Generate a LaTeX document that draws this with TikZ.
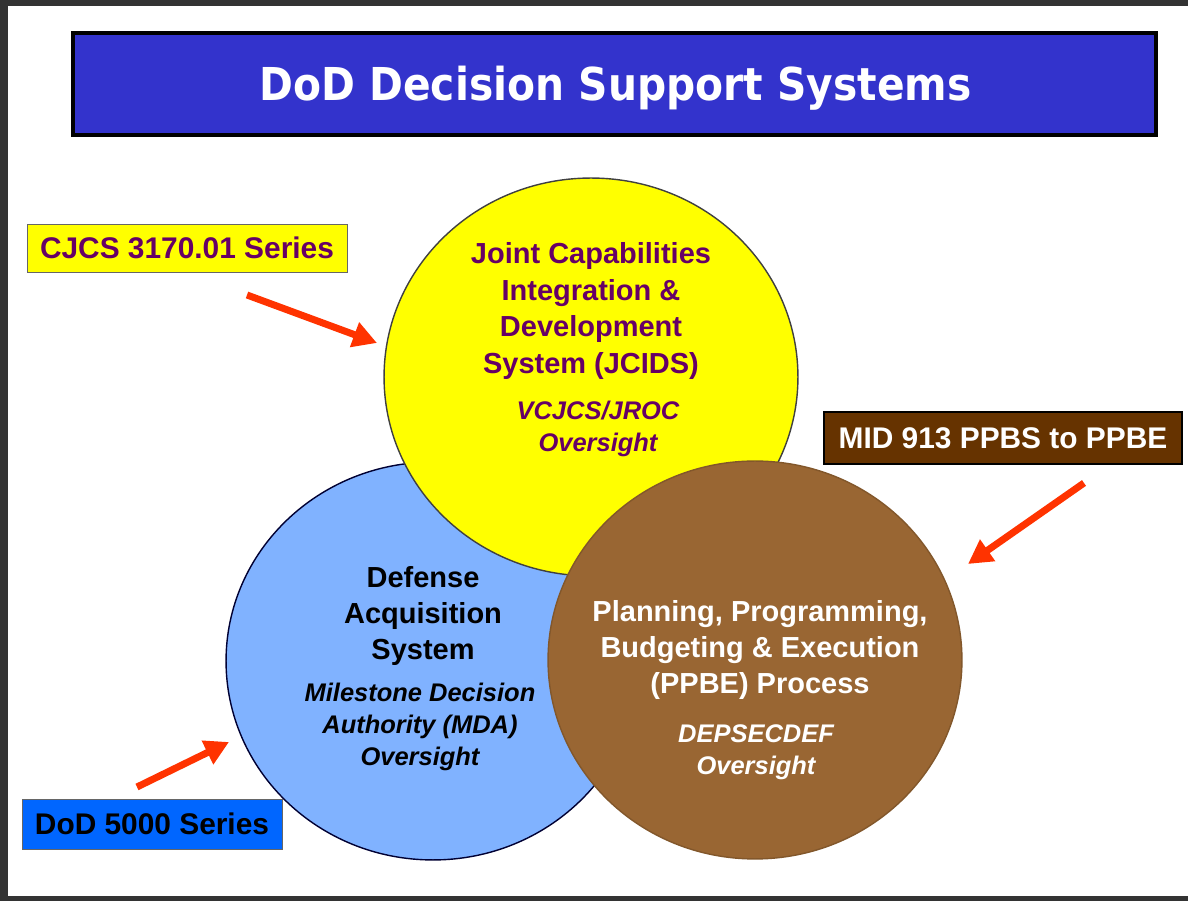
\documentclass[tikz,border=0pt]{standalone}
\usepackage{fontspec}
\setmainfont{Liberation Sans}
\newfontfamily\titlefont[FakeStretch=0.9]{DejaVu Sans}
\usetikzlibrary{shapes.geometric,arrows.meta}

\definecolor{titleblue}{HTML}{3333CC}
\definecolor{jcidsyellow}{HTML}{FFFF00}
\definecolor{jcidspurple}{HTML}{660066}
\definecolor{dasblue}{HTML}{80B2FF}
\definecolor{ppbebrown}{HTML}{996633}
\definecolor{midbrown}{HTML}{663300}
\definecolor{dodblue}{HTML}{0066FF}
\definecolor{arrowred}{HTML}{FF3300}
\definecolor{framegray}{HTML}{333333}

\tikzset{
  sysellipse/.style={ellipse, inner sep=0pt, minimum width=8.28cm, minimum height=7.96cm, line width=0.8pt},
  systext/.style={align=center, font=\fontsize{16.5}{20.7}\selectfont\bfseries},
  oversight/.style={align=center, font=\fontsize{14.5}{18.2}\selectfont\bfseries\itshape},
  seriesbox/.style={draw, inner sep=0pt, font=\fontsize{17}{20}\selectfont\bfseries},
  redarrow/.style={draw=arrowred, line width=0.14cm, -{Triangle[length=0.48cm, width=0.5cm]}}
}

\begin{document}
\begin{tikzpicture}[x=0.02cm, y=-0.02cm]
\useasboundingbox (0,0) rectangle (1188,901);
\fill[framegray] (0,0) rectangle (1188,901);
\fill[white] (8,6) rectangle (1188,896);

\node[draw=black, line width=2pt, fill=titleblue, minimum width=21.66cm, minimum height=2.04cm] (titlebar) at (614.5,84) {};
\node[anchor=base, text=white, font=\titlefont\bfseries\fontsize{25.8}{30}\selectfont] (titletext) at (615.5,101) {DoD Decision Support Systems};

\node[sysellipse, draw=black!80!blue, fill=dasblue] (das) at (433,661) {};
\node[sysellipse, draw=black!75, fill=jcidsyellow] (jcids) at (591,377) {};
\node[sysellipse, draw=ppbebrown!85!black, fill=ppbebrown] (ppbe) at (755,660) {};

\node[systext, text=jcidspurple] (jcidstext) at (591,311) {Joint Capabilities\\Integration \&\\Development\\System (JCIDS)};
\node[oversight, text=jcidspurple] (jcidsover) at (598,429) {VCJCS/JROC\\Oversight};
\node[systext] (dastext) at (423,616) {Defense\\Acquisition\\System};
\node[oversight] (dasover) at (420,727) {Milestone Decision\\Authority (MDA)\\Oversight};
\node[systext, text=white] (ppbetext) at (760,650) {Planning, Programming,\\Budgeting \& Execution\\(PPBE) Process};
\node[oversight, text=white] (ppbeover) at (756,752) {DEPSECDEF\\Oversight};

\node[seriesbox, draw=black!60, fill=jcidsyellow, text=jcidspurple, minimum width=6.4cm, minimum height=0.96cm] (cjcs) at (187,248) {CJCS 3170.01 Series};
\node[seriesbox, draw=black, line width=1pt, fill=midbrown, text=white, minimum width=7.16cm, minimum height=1.04cm] (mid) at (1003,438) {MID 913 PPBS to PPBE};
\node[seriesbox, draw=black!60, fill=dodblue, minimum width=5.2cm, minimum height=1cm] (dod) at (152,824) {DoD 5000 Series};

\coordinate (cjcstail) at (247,295);
\coordinate (cjcstip) at (377,343);
\coordinate (midtail) at (1084,483);
\coordinate (midtip) at (968,564);
\coordinate (dodtail) at (137,787);
\coordinate (dodtip) at (229,742);
\draw[redarrow] (cjcstail) -- (cjcstip);
\draw[redarrow] (midtail) -- (midtip);
\draw[redarrow] (dodtail) -- (dodtip);
\end{tikzpicture}
\end{document}
